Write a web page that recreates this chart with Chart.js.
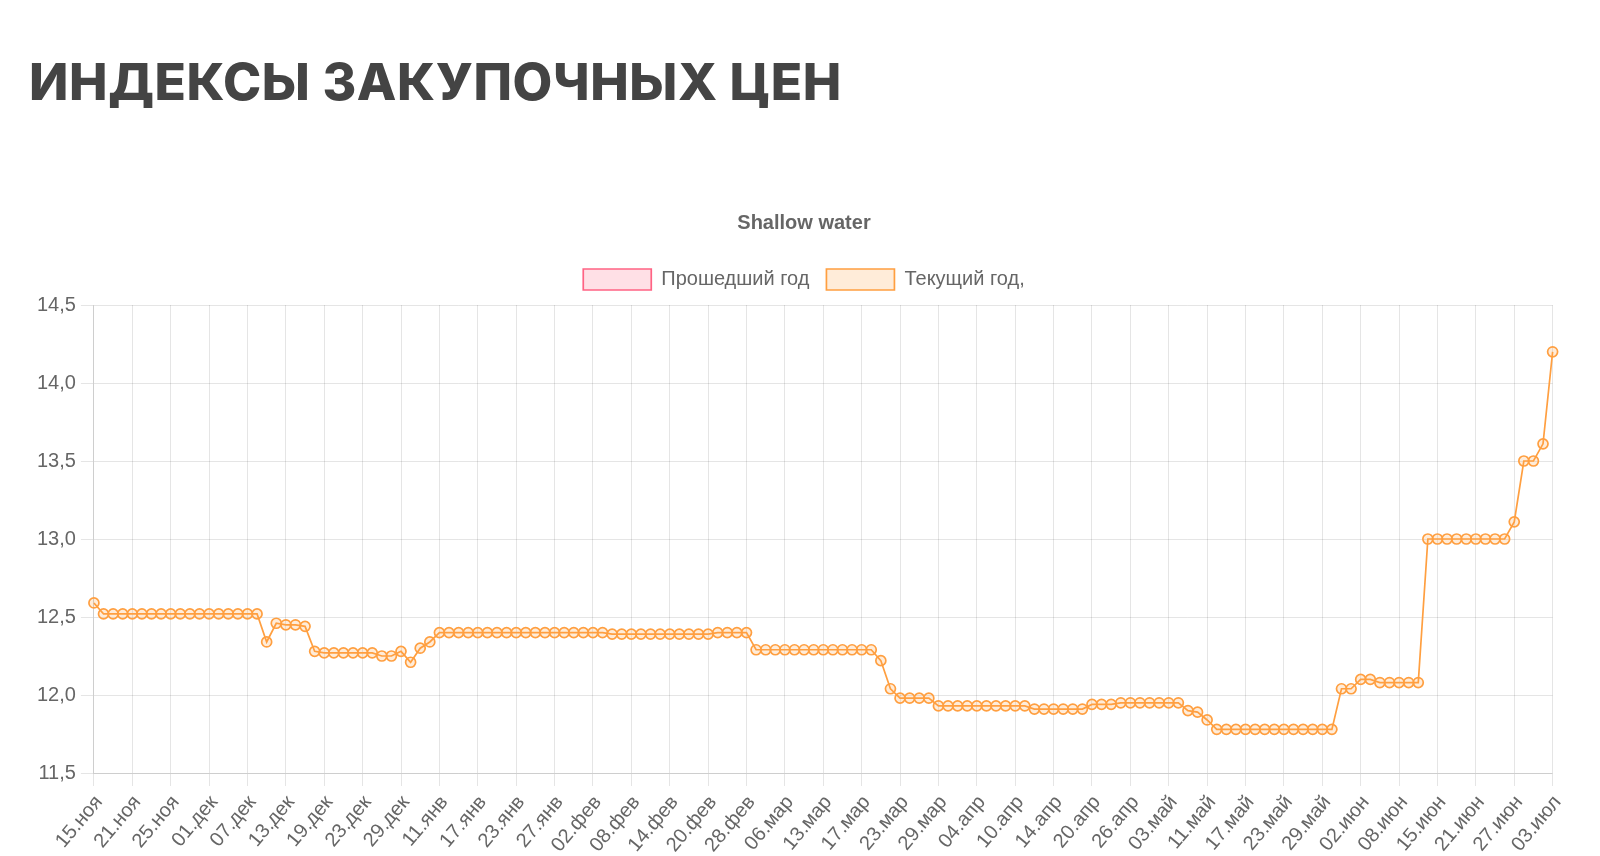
<!DOCTYPE html>
<html lang="ru">
<head>
<meta charset="utf-8">
<title>Индексы закупочных цен</title>
<script src="https://cdn.jsdelivr.net/npm/chart.js@4.4.0/dist/chart.umd.min.js"></script>
<style>
  html, body { margin: 0; padding: 0; background: #fff; }
  body { width: 1600px; height: 856px; overflow: hidden; position: relative; }
  h1 {
    position: absolute; left: 29px; top: 56px; margin: 0;
    font-family: Inter, "Open Sans", sans-serif; font-weight: 800;
    font-size: 51.5px; line-height: 1; letter-spacing: 0.6px; color: #444;
  }
  .chart-box { position: absolute; left: 32px; top: 194px; width: 1544px; height: 668px; }
</style>
</head>
<body>
<h1>ИНДЕКСЫ ЗАКУПОЧНЫХ ЦЕН</h1>
<div class="chart-box"><canvas id="pricesChart"></canvas></div>

<script>
// рабочие дни, 15.11 - 03.07
const dayLabels = [
  '15.ноя', '16.ноя', '17.ноя', '18.ноя', '21.ноя', '22.ноя', '23.ноя', '24.ноя', '25.ноя', '28.ноя', '29.ноя', '30.ноя',
  '01.дек', '02.дек', '05.дек', '06.дек', '07.дек', '08.дек', '09.дек', '12.дек', '13.дек', '14.дек', '15.дек', '16.дек',
  '19.дек', '20.дек', '21.дек', '22.дек', '23.дек', '26.дек', '27.дек', '28.дек', '29.дек', '30.дек',
  '09.янв', '10.янв', '11.янв', '12.янв', '13.янв', '16.янв', '17.янв', '18.янв', '19.янв', '20.янв', '23.янв', '24.янв',
  '25.янв', '26.янв', '27.янв', '30.янв', '31.янв',
  '01.фев', '02.фев', '03.фев', '06.фев', '07.фев', '08.фев', '09.фев', '10.фев', '13.фев', '14.фев', '15.фев', '16.фев',
  '17.фев', '20.фев', '21.фев', '22.фев', '27.фев', '28.фев',
  '01.мар', '02.мар', '03.мар', '06.мар', '07.мар', '09.мар', '10.мар', '13.мар', '14.мар', '15.мар', '16.мар', '17.мар',
  '20.мар', '21.мар', '22.мар', '23.мар', '24.мар', '27.мар', '28.мар', '29.мар', '30.мар', '31.мар',
  '03.апр', '04.апр', '05.апр', '06.апр', '07.апр', '10.апр', '11.апр', '12.апр', '13.апр', '14.апр', '17.апр', '18.апр',
  '19.апр', '20.апр', '21.апр', '24.апр', '25.апр', '26.апр', '27.апр', '28.апр',
  '02.май', '03.май', '04.май', '05.май', '10.май', '11.май', '12.май', '15.май', '16.май', '17.май', '18.май', '19.май',
  '22.май', '23.май', '24.май', '25.май', '26.май', '29.май', '30.май', '31.май',
  '01.июн', '02.июн', '05.июн', '06.июн', '07.июн', '08.июн', '09.июн', '13.июн', '14.июн', '15.июн', '16.июн', '19.июн',
  '20.июн', '21.июн', '22.июн', '23.июн', '26.июн', '27.июн', '28.июн', '29.июн', '30.июн',
  '03.июл'
];

// прошедший год - данных нет, только в легенде
const lastYearValues = [];

const currentYearValues = [
  // ноябрь
  12.59, 12.52, 12.52, 12.52, 12.52, 12.52, 12.52, 12.52, 12.52, 12.52, 12.52, 12.52,
  // декабрь
  12.52, 12.52, 12.52, 12.52, 12.52, 12.52, 12.34, 12.46, 12.45, 12.45, 12.44, 12.28,
  12.27, 12.27, 12.27, 12.27, 12.27, 12.27, 12.25, 12.25, 12.28, 12.21,
  // январь
  12.30, 12.34, 12.40, 12.40, 12.40, 12.40, 12.40, 12.40, 12.40, 12.40, 12.40, 12.40,
  12.40, 12.40, 12.40, 12.40, 12.40,
  // февраль
  12.40, 12.40, 12.40, 12.39, 12.39, 12.39, 12.39, 12.39, 12.39, 12.39, 12.39, 12.39,
  12.39, 12.39, 12.40, 12.40, 12.40, 12.40,
  // март
  12.29, 12.29, 12.29, 12.29, 12.29, 12.29, 12.29, 12.29, 12.29, 12.29, 12.29, 12.29,
  12.29, 12.22, 12.04, 11.98, 11.98, 11.98, 11.98, 11.93, 11.93, 11.93,
  // апрель
  11.93, 11.93, 11.93, 11.93, 11.93, 11.93, 11.93, 11.91, 11.91, 11.91, 11.91, 11.91,
  11.91, 11.94, 11.94, 11.94, 11.95, 11.95, 11.95, 11.95,
  // май
  11.95, 11.95, 11.95, 11.90, 11.89, 11.84, 11.78, 11.78, 11.78, 11.78, 11.78, 11.78,
  11.78, 11.78, 11.78, 11.78, 11.78, 11.78, 11.78, 12.04,
  // июнь
  12.04, 12.10, 12.10, 12.08, 12.08, 12.08, 12.08, 12.08, 13.00, 13.00, 13.00, 13.00,
  13.00, 13.00, 13.00, 13.00, 13.00, 13.11, 13.50, 13.50, 13.61,
  // июль
  14.20
];

const yMin = 11.5;
const yMax = 14.5;
const yStep = 0.5;
const labelEvery = 4; // подпись на оси X у каждой 4-й даты

Chart.defaults.font.family = '"Liberation Sans", Arial, sans-serif';
Chart.defaults.font.size = 20;
Chart.defaults.color = '#666';

// немного воздуха между легендой и графиком
const legendMargin = {
  id: 'legendMargin',
  beforeInit(chart) {
    const fit = chart.legend.fit;
    chart.legend.fit = function() {
      fit.bind(chart.legend)();
      this.height += 5;
    };
  }
};

const ctx = document.getElementById('pricesChart').getContext('2d');
const pricesChart = new Chart(ctx, {
  type: 'line',
  data: {
    labels: dayLabels,
    datasets: [
      {
        label: 'Прошедший год',
        data: lastYearValues,
        borderColor: 'rgb(255, 99, 132)',
        backgroundColor: 'rgba(255, 99, 132, 0.2)',
        borderWidth: 1.7
      },
      {
        label: 'Текущий год,',
        data: currentYearValues,
        borderColor: 'rgb(255, 159, 64)',
        backgroundColor: 'rgba(255, 159, 64, 0.2)',
        borderWidth: 1.7,
        pointRadius: 5,
        pointBorderWidth: 1.7,
        tension: 0,
        fill: false
      }
    ]
  },
  options: {
    responsive: true,
    maintainAspectRatio: false,
    animation: false,
    plugins: {
      title: {
        display: true,
        text: 'Shallow water',
        font: { size: 20, weight: 'bold' },
        padding: 17
      },
      legend: {
        labels: { boxWidth: 68, boxHeight: 21, padding: 17 }
      },
      tooltip: { enabled: false }
    },
    scales: {
      x: {
        grid: { tickLength: 13 },
        ticks: {
          autoSkip: false,
          minRotation: 50,
          maxRotation: 50,
          padding: 5,
          labelOffset: 5,
          callback: function(value, index) {
            return index % labelEvery === 0 ? this.getLabelForValue(value) : null;
          }
        }
      },
      y: {
        min: yMin,
        max: yMax,
        grid: { tickLength: 13 },
        ticks: {
          stepSize: yStep,
          padding: 5,
          callback: v => v.toFixed(1).replace('.', ',')
        }
      }
    }
  },
  plugins: [legendMargin]
});
</script>
</body>
</html>
